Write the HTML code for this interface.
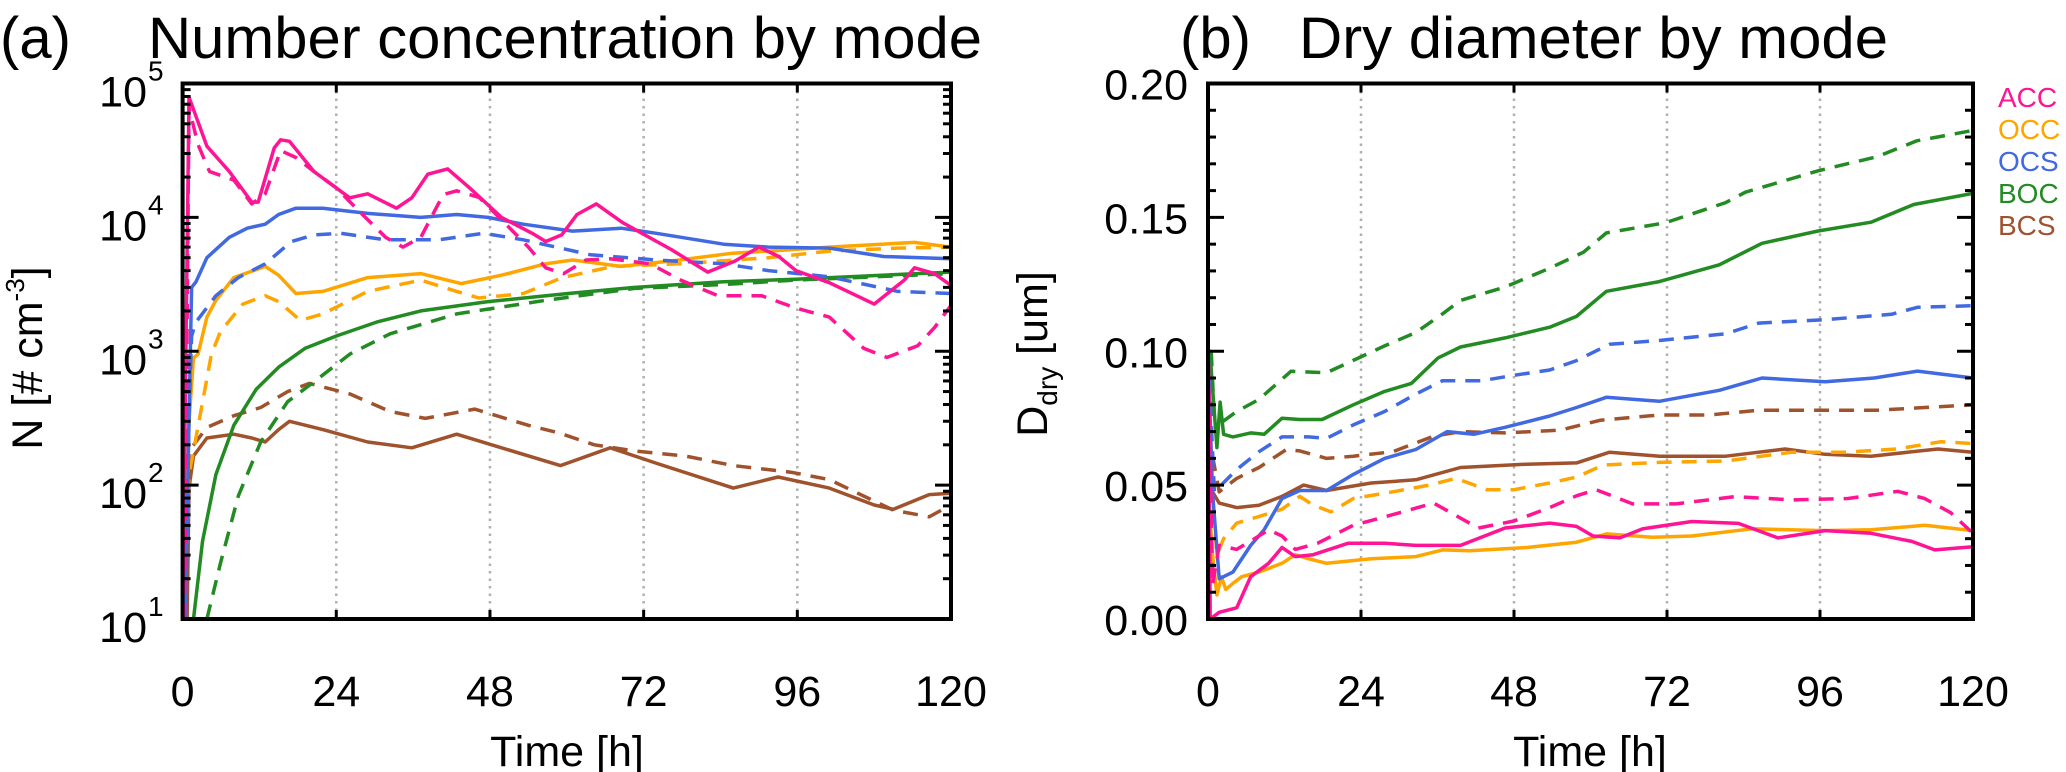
<!DOCTYPE html>
<html><head><meta charset="utf-8"><style>
html,body{margin:0;padding:0;background:#fff;}
svg{display:block;font-family:"Liberation Sans",Arial,sans-serif;}
</style></head><body>
<svg id="fig" width="2066" height="772" viewBox="0 0 2066 772">
<text x="0" y="58" font-size="58">(a)</text>
<text x="148" y="58" font-size="58" textLength="834" lengthAdjust="spacingAndGlyphs">Number concentration by mode</text>
<text x="1180" y="58" font-size="58">(b)</text>
<text x="1299" y="58" font-size="58" textLength="589" lengthAdjust="spacingAndGlyphs">Dry diameter by mode</text>
<text x="567" y="766" font-size="43" text-anchor="middle">Time [h]</text>
<text x="1590" y="766" font-size="43" text-anchor="middle">Time [h]</text>
<text transform="translate(42,358) rotate(-90)" font-size="43" text-anchor="middle">N [# cm<tspan font-size="26" dy="-18">-3</tspan><tspan dy="18">]</tspan></text>
<text transform="translate(1047,354) rotate(-90)" font-size="43" text-anchor="middle">D<tspan font-size="28" dy="10">dry</tspan><tspan dy="-10"> [um]</tspan></text>
<g font-size="28">
<text x="1998" y="107" fill="#ff1493">ACC</text>
<text x="1998" y="139" fill="#ffa500">OCC</text>
<text x="1998" y="171" fill="#4169e1">OCS</text>
<text x="1998" y="203" fill="#228b22">BOC</text>
<text x="1998" y="235" fill="#a0522d">BCS</text>
</g>
</svg>
<script>
// ---- Panel (a) data: time [h] and number concentration ----
const xTicks = [0,24,48,72,96,120];
const xTickLabels = ["0","24","48","72","96","120"];
const logTickExps = [1,2,3,4,5];
const dTicks = [0,0.05,0.10,0.15,0.20];
const dTickLabels = ["0.00","0.05","0.10","0.15","0.20"];

const accSolidT = [0,1,3.8,7.3,10.8,11.8,14.3,15.3,16.7,20.5,26.1,28.9,33.4,35.8,38.3,41.4,44.9,49.8,54.6,56.7,59.2,61.6,64.6,68.8,76.3,82,86.2,90,93.1,95.8,101,108,112.7,114.3,117.4,120];
const accSolidN = [10,79000,34000,22000,13000,13000,33000,38000,37000,22000,14000,15000,11700,14000,21000,23000,16500,10000,7600,6600,7400,10500,12600,9100,5750,3900,4700,6000,5100,4000,3250,2250,3400,4200,3800,3100];
const accDashT = [0.3,1,2.4,4.2,8,10.8,12.9,15.3,17.7,20.5,24,27.5,31.7,34.4,37.2,40.7,42.8,46.3,49.8,54,56.7,59.5,63,66.8,73,77.8,83.6,90.4,95.8,101,106.4,110,114.8,117.4,120];
const accDashN = [10,66000,35000,22000,19000,12600,15000,31600,28000,22000,16600,11200,7100,6000,7100,14800,15800,14100,9600,6000,4200,3800,4800,4900,4500,3400,2600,2600,2100,1800,1050,900,1100,1500,2200];
const ocsSolidT = [0.4,1,1.4,2.1,3.8,7.3,10.1,12.9,15,17.7,21.9,28.9,37.2,42.8,47.7,53.2,60.9,68.5,74,84.5,91.5,101,109.5,120];
const ocsSolidN = [10,300,3000,3300,5000,7100,8300,8900,10500,11700,11700,10700,10000,10500,10000,8900,7900,8300,7600,6300,6000,5900,5100,4900];
const ocsDashT = [0.5,1,1.4,2.1,5.2,8.7,12.9,17,20.5,24.7,31.7,40,47,53.2,63.7,74,84.5,91.5,101,111.7,120];
const ocsDashN = [10,320,1300,1650,2600,3550,4500,6600,7400,7600,6800,6800,7600,6800,5250,4800,4500,4000,3600,2800,2700];
const occSolidT = [0.2,1,1.7,2.4,3.8,5.2,8,12.9,15,17.7,21.9,28.9,37.2,43.5,49.8,56.7,60.9,68.5,77.6,85.9,91.5,101,114.3,120];
const occSolidN = [10,300,890,950,1800,2400,3550,4300,3700,2700,2800,3550,3800,3200,3700,4500,4800,4300,4800,5400,5600,6000,6500,6000];
const occDashT = [0.3,1,1.7,4.5,5.9,9.4,12.9,15,18.4,21.9,28.9,37.2,42.8,46.3,53.2,59.3,67.2,77.6,91.5,101,111.7,120];
const occDashN = [10,120,180,950,1400,2250,2600,2350,1700,1900,2800,3400,2800,2500,2700,3550,4300,4500,5000,5600,5900,6000];
const bocSolidT = [1.7,3.1,5.2,8,11.5,15,19.1,24,30.3,37.2,47.7,60.2,70.6,84.5,95.7,120];
const bocSolidN = [10,38,120,280,520,760,1050,1300,1650,2000,2350,2700,3000,3300,3450,3900];
const bocDashT = [3.8,5.9,8.7,12.2,16.4,20.5,26.1,32.4,42.8,56.7,70.6,84.5,95.7,120];
const bocDashN = [10,26,83,210,420,590,950,1350,1900,2400,2950,3150,3400,3800];
const bcsSolidT = [0.7,1,1.7,3.8,8,10.8,12.9,15,16.7,21.9,28.9,35.8,42.8,49.8,59,66.8,74.1,86,93,101,108,111,116.6,120];
const bcsSolidN = [10,95,165,225,240,225,210,260,300,260,210,190,240,190,140,190,145,95,115,95,71,66,85,87];
const bcsDashT = [0.5,1,3.8,8,12.2,16.4,19.8,26.1,32.4,37.9,45.6,54,58.8,64.3,70.6,78.5,86,95,101,111,116.6,120];
const bcsDashN = [10,180,270,330,380,500,575,480,355,315,370,280,245,200,180,165,140,125,110,65,58,71];

// ---- Panel (b) data: dry diameter [um] ----
const accSolidDT = [0,0.35,1.75,4.5,6.7,9.5,11.6,13.7,16.5,22,27.7,32.6,39.6,46.6,53.6,57.8,60.4,64.6,68.2,75.9,83.2,89.4,96.8,104,110.4,114,120];
const accSolidD = [0.111,0,0.0025,0.0042,0.0158,0.0208,0.0267,0.0233,0.024,0.0283,0.0283,0.0275,0.0275,0.034,0.0358,0.0346,0.031,0.0303,0.0337,0.0364,0.0357,0.0303,0.033,0.032,0.029,0.0258,0.027];
const accDashDT = [0,0.7,1.75,4.5,7.3,9.5,11.6,13.7,17.2,22.8,29,35.4,42.4,48,53.6,57.8,60.9,66.6,73.4,82.7,91.6,100.4,108.2,112.4,116.5,120];
const accDashD = [0.105,0.0125,0.0275,0.026,0.03,0.0333,0.031,0.026,0.0283,0.035,0.039,0.0433,0.034,0.0366,0.0416,0.046,0.0483,0.043,0.043,0.0457,0.0445,0.045,0.0477,0.045,0.0397,0.032];
const occSolidDT = [0,0.7,1.4,2.1,2.8,3.9,5.3,8,11.6,13.7,15.8,18.6,25.6,32.6,36.8,41,50,57.8,62.5,69.8,75.9,85.3,96.8,104,112.4,120];
const occSolidD = [0.05,0.024,0.009,0.0158,0.011,0.0133,0.0158,0.0175,0.0208,0.024,0.0225,0.0208,0.0225,0.0233,0.0258,0.0255,0.0267,0.0287,0.0318,0.0305,0.031,0.0337,0.033,0.0333,0.035,0.033];
const occDashDT = [0,0.7,1.4,2.45,4.5,8,11.6,14.4,16.5,19.3,22.8,29,34.7,38.9,43.8,48,53.6,57.8,62,70.8,81.2,91.6,100,108,115,120];
const occDashD = [0.05,0.0458,0.024,0.03,0.0358,0.0383,0.041,0.0458,0.0425,0.04,0.045,0.0475,0.05,0.0525,0.0483,0.0483,0.0508,0.053,0.0575,0.0585,0.059,0.0623,0.0623,0.0635,0.0662,0.0655];
const ocsSolidDT = [0,0.7,1.75,3.9,6.7,8.8,11.6,14.4,18.6,22.8,27.7,32.6,37.5,41.7,46.6,53.6,57.8,62.5,70.8,80.2,86.9,96.8,104.5,111.3,120];
const ocsSolidD = [0.1,0.0475,0.015,0.0175,0.0275,0.0333,0.045,0.048,0.048,0.054,0.06,0.0633,0.07,0.069,0.0716,0.0758,0.079,0.0828,0.0813,0.0854,0.09,0.0886,0.09,0.0926,0.09];
const ocsDashDT = [0,1,4.5,8,11.6,15.8,18.6,22.8,27.7,32.6,36.8,43,48,53.6,57.8,63,70.8,81.2,86.4,96.8,107.2,111.3,120];
const ocsDashD = [0.1,0.0475,0.0558,0.0625,0.068,0.068,0.0675,0.0725,0.0775,0.084,0.089,0.089,0.091,0.093,0.0965,0.1026,0.104,0.1065,0.1105,0.1118,0.1138,0.1164,0.117];
const bocSolidDT = [0,0.3,1.4,1.9,2.45,3.9,6.7,8.8,11.6,14.4,17.9,22.8,27.7,31.9,36.1,39.6,46.6,53.6,57.8,62.5,70.8,80.2,86.9,95.7,104,110.7,120];
const bocSolidD = [0.1,0.1,0.064,0.081,0.069,0.068,0.0695,0.069,0.075,0.0745,0.0745,0.08,0.085,0.088,0.0975,0.1016,0.105,0.109,0.113,0.1224,0.126,0.1323,0.1403,0.1449,0.1482,0.1548,0.159];
const bocDashDT = [0.5,1,2.45,4.5,8,13,18.6,22.8,27.7,32.6,36.8,39.6,46.6,53.6,58.9,62.5,71.8,81.2,84.3,95.7,105,111.2,120];
const bocDashD = [0.1,0.075,0.074,0.0775,0.082,0.0925,0.092,0.0966,0.102,0.107,0.114,0.119,0.124,0.131,0.137,0.1442,0.148,0.1555,0.1594,0.1674,0.1727,0.1786,0.1825];
const bcsSolidDT = [0,0.7,1.75,4.5,8,11.6,15,18.6,25.6,32.6,39.6,50,57.8,63,70.8,81.2,90.5,96.8,104,114.5,120];
const bcsSolidD = [0.07,0.0475,0.0433,0.0416,0.0425,0.0458,0.05,0.048,0.0508,0.052,0.0566,0.0578,0.0583,0.0623,0.0608,0.0608,0.0635,0.0615,0.0608,0.0635,0.0623];
const bcsDashDT = [0,1.75,4.5,8,12.3,14.4,18.6,22.8,29,35.4,39.6,46.6,55.2,61.5,70.8,78.6,86.4,96.8,105,120];
const bcsDashD = [0.07,0.0475,0.0525,0.0566,0.0633,0.0628,0.06,0.0608,0.0625,0.0683,0.07,0.0695,0.0705,0.0742,0.0762,0.0762,0.078,0.078,0.078,0.08];

const NS = "http://www.w3.org/2000/svg";
const svg = document.getElementById('fig');
const A = {l:182.6, r:951, t:83.5, b:619};
const B = {l:1208, r:1973, t:83.5, b:619};
const xA = t => A.l + t/120*(A.r-A.l);
const yA = v => A.b - (Math.log10(v)-1)/4*(A.b-A.t);
const xB = t => B.l + t/120*(B.r-B.l);
const yB = v => B.b - v/0.2*(B.b-B.t);

function mk(tag, attrs, parent){
  const e = document.createElementNS(NS, tag);
  for (const k in attrs) e.setAttribute(k, attrs[k]);
  (parent||svg).appendChild(e);
  return e;
}

function panel(P, xf, id){
  const g = mk('g', {});
  
  
  // grid lines
  [24,48,72,96].forEach(t => {
    const ln = mk('line', {x1:xf(t), x2:xf(t), y1:P.t, y2:P.b, stroke:'#b0b0b0', 'stroke-width':2.5, 'stroke-dasharray':'2.5 5'}, g);
    
    
  });
  // x ticks & labels
  xTicks.forEach((t,i) => {
    mk('line', {x1:xf(t), x2:xf(t), y1:P.b, y2:P.b-9, stroke:'#000','stroke-width':3}, g);
    mk('line', {x1:xf(t), x2:xf(t), y1:P.t, y2:P.t+9, stroke:'#000','stroke-width':3}, g);
    const tx = mk('text', {x:xf(t), y:706, 'font-size':43, 'text-anchor':'middle'}, g);
    
    
    tx.textContent = xTickLabels[i];
  });
  return g;
}

function series(g, ts, vs, xf, yf, color, dashed, name){
  let d = '';
  ts.forEach((t,i) => { d += (i ? 'L' : 'M') + xf(t).toFixed(1) + ',' + yf(vs[i]).toFixed(1); });
  const p = mk('path', {d:d, fill:'none', stroke:color, 'stroke-width':3.5, 'stroke-linejoin':'round', 'stroke-dasharray': dashed ? '15 10' : 'none'}, g);
  
  
}

const C = {acc:'#ff1493', occ:'#ffa500', ocs:'#4169e1', boc:'#228b22', bcs:'#a0522d'};

// Panel A
const gA = panel(A, xA, 'a');
const clipA = mk('clipPath', {id:'ca'}); mk('rect', {x:A.l, y:A.t, width:A.r-A.l, height:A.b-A.t}, clipA);
const sA = mk('g', {'clip-path':'url(#ca)'}, gA);
series(sA, bcsDashT, bcsDashN, xA, yA, C.bcs, true, 'bcs-number-dashed');
series(sA, bcsSolidT, bcsSolidN, xA, yA, C.bcs, false, 'bcs-number-solid');
series(sA, bocDashT, bocDashN, xA, yA, C.boc, true, 'boc-number-dashed');
series(sA, bocSolidT, bocSolidN, xA, yA, C.boc, false, 'boc-number-solid');
series(sA, occDashT, occDashN, xA, yA, C.occ, true, 'occ-number-dashed');
series(sA, occSolidT, occSolidN, xA, yA, C.occ, false, 'occ-number-solid');
series(sA, ocsDashT, ocsDashN, xA, yA, C.ocs, true, 'ocs-number-dashed');
series(sA, ocsSolidT, ocsSolidN, xA, yA, C.ocs, false, 'ocs-number-solid');
series(sA, accDashT, accDashN, xA, yA, C.acc, true, 'acc-number-dashed');
series(sA, accSolidT, accSolidN, xA, yA, C.acc, false, 'acc-number-solid');
// log ticks
logTickExps.forEach(e => {
  const y = yA(Math.pow(10,e));
  mk('line', {x1:A.l, x2:A.l+16, y1:y, y2:y, stroke:'#000','stroke-width':3}, gA);
  mk('line', {x1:A.r, x2:A.r-16, y1:y, y2:y, stroke:'#000','stroke-width':3}, gA);
  const tx = mk('text', {x:147, y:y+23, 'font-size':43, 'text-anchor':'end'}, gA);
  
  
  tx.textContent = '10';
  const sp = mk('text', {x:148, y:y-3, 'font-size':28}, gA);
  
  
  sp.textContent = String(e);
  if (e < 5) for (let m=2; m<10; m++){
    const ym = yA(m*Math.pow(10,e));
    mk('line', {x1:A.l, x2:A.l+8, y1:ym, y2:ym, stroke:'#000','stroke-width':3}, gA);
    mk('line', {x1:A.r, x2:A.r-8, y1:ym, y2:ym, stroke:'#000','stroke-width':3}, gA);
  }
});
const fa = mk('rect', {x:A.l, y:A.t, width:A.r-A.l, height:A.b-A.t, fill:'none', stroke:'#000', 'stroke-width':4}, gA);



// Panel B
const gB = panel(B, xB, 'b');
const clipB = mk('clipPath', {id:'cb'}); mk('rect', {x:B.l, y:B.t, width:B.r-B.l, height:B.b-B.t}, clipB);
const sB = mk('g', {'clip-path':'url(#cb)'}, gB);
series(sB, bcsDashDT, bcsDashD, xB, yB, C.bcs, true, 'bcs-diameter-dashed');
series(sB, bcsSolidDT, bcsSolidD, xB, yB, C.bcs, false, 'bcs-diameter-solid');
series(sB, bocDashDT, bocDashD, xB, yB, C.boc, true, 'boc-diameter-dashed');
series(sB, bocSolidDT, bocSolidD, xB, yB, C.boc, false, 'boc-diameter-solid');
series(sB, occDashDT, occDashD, xB, yB, C.occ, true, 'occ-diameter-dashed');
series(sB, occSolidDT, occSolidD, xB, yB, C.occ, false, 'occ-diameter-solid');
series(sB, ocsDashDT, ocsDashD, xB, yB, C.ocs, true, 'ocs-diameter-dashed');
series(sB, ocsSolidDT, ocsSolidD, xB, yB, C.ocs, false, 'ocs-diameter-solid');
series(sB, accDashDT, accDashD, xB, yB, C.acc, true, 'acc-diameter-dashed');
series(sB, accSolidDT, accSolidD, xB, yB, C.acc, false, 'acc-diameter-solid');
dTicks.forEach((v,i) => {
  const y = yB(v);
  const tx = mk('text', {x:1188, y:y+16, 'font-size':43, 'text-anchor':'end'}, gB);
  
  
  tx.textContent = dTickLabels[i];
});
for (let k=0; k<=20; k++){
  const y = yB(k*0.01);
  const len = (k%5===0) ? 16 : 8;
  mk('line', {x1:B.l, x2:B.l+len, y1:y, y2:y, stroke:'#000','stroke-width':3}, gB);
  mk('line', {x1:B.r, x2:B.r-len, y1:y, y2:y, stroke:'#000','stroke-width':3}, gB);
}
const fb = mk('rect', {x:B.l, y:B.t, width:B.r-B.l, height:B.b-B.t, fill:'none', stroke:'#000', 'stroke-width':4}, gB);


</script>
</body></html>
